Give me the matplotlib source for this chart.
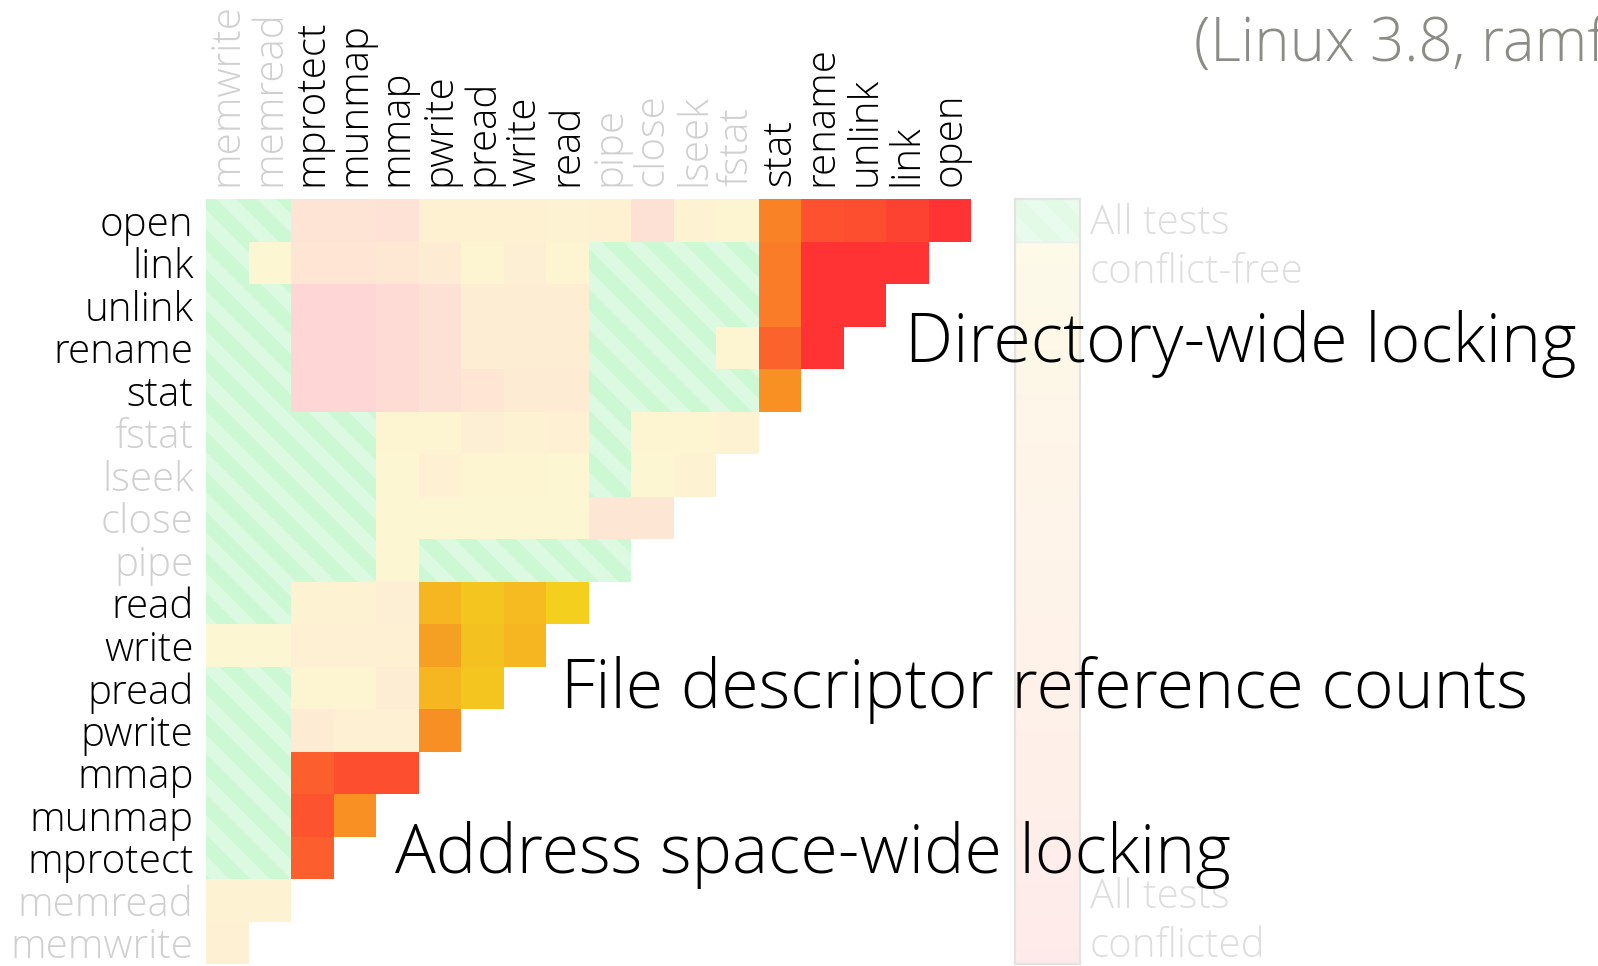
import matplotlib
matplotlib.use("Agg")
import matplotlib.pyplot as plt
import numpy as np
from matplotlib import font_manager as fm
from matplotlib.colors import LinearSegmentedColormap, to_rgb
from matplotlib.patches import Rectangle, PathPatch
from matplotlib.path import Path
from matplotlib.collections import LineCollection

# --- data -------------------------------------------------------------
rows = ["open", "link", "unlink", "rename", "stat", "fstat", "lseek", "close",
        "pipe", "read", "write", "pread", "pwrite", "mmap", "munmap", "mprotect",
        "memread", "memwrite"]
cols = rows[::-1]

# fraction of tests that conflict, row by row (columns in `cols` order)
# 0 -> all tests conflict-free (hatched)
conflict = [
    [0, 0, .63, .63, .72, .15, .15, .15, .12, .15, .75, .1, .02, .56, .86, .87, .93, 1.0],
    [0, .01, .6, .6, .5, .35, .02, .2, .05, 0, 0, 0, 0, .62, 1, 1, 1],
    [0, 0, 1, 1, .9, .75, .27, .27, .27, 0, 0, 0, 0, .62, 1, 1],
    [0, 0, 1, 1, .9, .75, .25, .27, .27, 0, 0, 0, .02, .78, 1],
    [0, 0, 1, 1, .9, .75, .6, .35, .35, 0, 0, 0, 0, .45],
    [0, 0, 0, 0, .02, .05, .2, .08, .18, 0, .02, .05, .08],
    [0, 0, 0, 0, .01, .17, .02, .05, .01, 0, .01, .08],
    [0, 0, 0, 0, .01, .01, .01, .01, .01, .55, .55],
    [0, 0, 0, 0, .01, 0, 0, 0, 0, 0],
    [0, 0, .1, .1, .2, .17, .08, .14, .02],
    [.01, .01, .17, .17, .18, .32, .1, .17],
    [0, 0, .05, .05, .25, .17, .08],
    [0, 0, .3, .17, .17, .46],
    [0, 0, .8, .87, .87],
    [0, 0, .85, .45],
    [0, 0, .8],
    [.1, .1],
    [.17],
]

groups = [["stat", "rename", "unlink", "link", "open"],
          ["read", "write", "pread", "pwrite"],
          ["mmap", "munmap", "mprotect"]]

annotations = ["Directory-wide locking", "File descriptor reference counts",
               "Address space-wide locking"]
title = "(Linux 3.8, ramfs)"

# --- style ------------------------------------------------------------
W, H = 1598, 966
light = None
for f in fm.fontManager.ttflist:
    if f.fname.endswith("OpenSans-Light.ttf"):
        light = f.fname
        break
if light:
    fp = lambda s: fm.FontProperties(fname=light, size=s)
else:
    fp = lambda s: fm.FontProperties(family="Open Sans", size=s)

cmap = LinearSegmentedColormap.from_list(
    "conf", [(0, "#f4d21e"), (.25, "#f5a822"), (.5, "#f98a25"),
             (.75, "#fb6a2c"), (1, "#ff3333")])


def fade(c, a):
    c = np.array(to_rgb(c))
    return tuple(c * a + (1 - a))


green_face, green_stripe = "#dcf9e1", "#ccf8d4"
period = 0.95
group_of = {n: k for k, g in enumerate(groups) for n in g}

fig = plt.figure(figsize=(W / 100, H / 100), dpi=100)

cell = 42.5
left, top = 206, 199
ax = fig.add_axes([left / W, 1 - (top + 18 * cell) / H, 18 * cell / W, 18 * cell / H])
ax.set_xlim(0, 18)
ax.set_ylim(18, 0)
for s in ax.spines.values():
    s.set_visible(False)


def stripes(a, paths, x0, x1, y0, y1, face, stripe, lw):
    comp = Path.make_compound_path(*paths)
    clip = PathPatch(comp, transform=a.transData, facecolor=face, edgecolor="none")
    a.add_patch(clip)
    segs = [[(c, y0), (c + (y1 - y0), y1)] for c in np.arange(x0 - (y1 - y0), x1, period)]
    lc = LineCollection(segs, colors=stripe, linewidths=lw, capstyle="butt")
    a.add_collection(lc)
    lc.set_clip_path(clip)


def square(x, y, w, h):
    return Path([(x, y), (x + w, y), (x + w, y + h), (x, y + h), (x, y)],
                [Path.MOVETO, Path.LINETO, Path.LINETO, Path.LINETO, Path.CLOSEPOLY])


free = []
for i, r in enumerate(rows):
    for j, v in enumerate(conflict[i]):
        c = cols[j]
        v = float(v)
        if v == 0:
            free.append(square(j, i, 1, 1))
            continue
        hot = r in group_of and group_of.get(c) == group_of[r]
        col = cmap(v) if hot else fade(cmap(v), 0.2)
        ax.add_patch(Rectangle((j, i), 1, 1, facecolor=col, edgecolor="none"))
stripes(ax, free, 0, 18, -1, 19, green_face, green_stripe, 10.5)

ax.set_yticks(np.arange(18) + 0.5)
ax.set_yticklabels(rows)
ax.xaxis.tick_top()
ax.set_xticks(np.arange(18) + 0.5)
ax.set_xticklabels(cols, rotation=90, va="bottom", ha="center")
ax.tick_params(length=0, pad=9)
for lab in ax.get_yticklabels() + ax.get_xticklabels():
    lab.set_fontproperties(fp(29))
    lab.set_color("#000000" if lab.get_text() in group_of else "#d0d0d0")

# --- colour scale -------------------------------------------------------
cb_left, cb_w = 1015, 65
cax = fig.add_axes([cb_left / W, 1 - (top + 18 * cell) / H, cb_w / W, 18 * cell / H])
cw = cb_w / cell
cax.set_xticks([])
cax.set_yticks([])
faded_cb = LinearSegmentedColormap.from_list(
    "cb", [fade(cmap(v), 0.1) for v in np.linspace(0, 1, 11)])
cax.imshow(np.linspace(0, 1, 256)[:, None], extent=(0, cw, 18, 1), cmap=faded_cb,
           aspect="auto", interpolation="bilinear")
stripes(cax, [square(0, 0, cw, 1)], 0, cw, -1, 2, "#e9fbec", "#e2fae6", 10.5)
cax.set_xlim(0, cw)
cax.set_ylim(18, 0)
for s in cax.spines.values():
    s.set_color("#e3e3e3")
    s.set_linewidth(1.6)
cax.axhline(1, color="#eeeeee", lw=1)

grey = "#dedede"
fig.text(1090 / W, 1 - 234 / H, "All tests", fontproperties=fp(29), color=grey, va="baseline")
fig.text(1090 / W, 1 - 283 / H, "conflict-free", fontproperties=fp(29), color=grey, va="baseline")
fig.text(1090 / W, 1 - 908 / H, "All tests", fontproperties=fp(29), color=grey, va="baseline")
fig.text(1090 / W, 1 - 957 / H, "conflicted", fontproperties=fp(29), color=grey, va="baseline")

# --- annotations --------------------------------------------------------
fig.text(905 / W, 1 - 362 / H, annotations[0], fontproperties=fp(49), color="#000000", va="baseline")
fig.text(561 / W, 1 - 708 / H, annotations[1], fontproperties=fp(49), color="#000000", va="baseline")
fig.text(395 / W, 1 - 873 / H, annotations[2], fontproperties=fp(49), color="#000000", va="baseline")

fig.text(1194 / W, 1 - 61 / H, title, fontproperties=fp(43), color="#8c8c86", va="baseline")

fig.savefig("out.png", dpi=100)
